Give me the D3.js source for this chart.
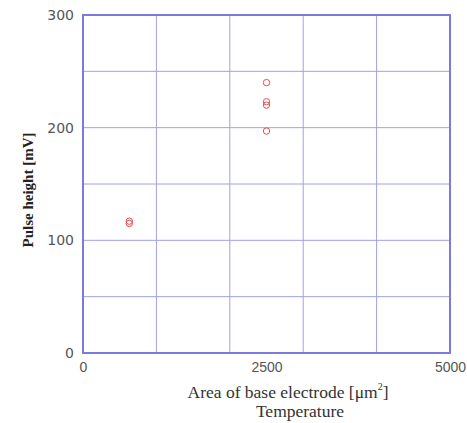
<!DOCTYPE html>
<html><head><meta charset="utf-8">
<script src="https://cdn.jsdelivr.net/npm/d3@7"></script>
<style>body{margin:0;background:#fff}svg{display:block}</style>
</head><body>
<svg id="c" width="467" height="423"></svg>
<script>
const xValues = [631, 631, 2500, 2500, 2500, 2500];
const yValues = [115, 117, 240, 223, 220, 197];
const xTickLabels = [0, 2500, 5000];
const yTickLabels = [0, 100, 200, 300];
const xGridValues = [1000, 2000, 3000, 4000];
const yGridValues = [50, 100, 150, 200, 250];

const svg = d3.select("#c");
const m = {l: 83, r: 450, t: 15, b: 353};
const x = d3.scaleLinear().domain([0, 5000]).range([m.l, m.r]);
const y = d3.scaleLinear().domain([0, 300]).range([m.b, m.t]);

const g = svg.append("g");
g.selectAll(".gx").data(xGridValues).enter().append("line")
  .attr("x1", d => x(d)).attr("x2", d => x(d)).attr("y1", m.t).attr("y2", m.b)
  .attr("stroke", "#a0a0e8").attr("stroke-width", 1);
g.selectAll(".gy").data(yGridValues).enter().append("line")
  .attr("y1", d => y(d)).attr("y2", d => y(d)).attr("x1", m.l).attr("x2", m.r)
  .attr("stroke", "#a0a0e8").attr("stroke-width", 1);
g.append("rect").attr("x", m.l).attr("y", m.t).attr("width", m.r - m.l).attr("height", m.b - m.t)
  .attr("fill", "none").attr("stroke", "#7a7ae0").attr("stroke-width", 2);

const xa = d3.axisBottom(x).tickValues(xTickLabels).tickSize(0).tickPadding(9).tickFormat(d3.format("d"));
const xg = svg.append("g").attr("transform", `translate(0,${m.b})`).call(xa);
xg.select(".domain").remove();
xg.selectAll("text").attr("font-family", "Liberation Sans").attr("font-size", 14).attr("fill", "#555");

const ya = d3.axisLeft(y).tickValues(yTickLabels).tickSize(0).tickPadding(9).tickFormat(d3.format("d"));
const yg = svg.append("g").attr("transform", `translate(${m.l},0)`).call(ya);
yg.select(".domain").remove();
yg.selectAll("text").attr("font-family", "DejaVu Sans").attr("font-size", 14).attr("fill", "#555");

svg.selectAll(".pt").data(xValues.map((v, i) => [v, yValues[i]])).enter().append("circle")
  .attr("cx", d => x(d[0])).attr("cy", d => y(d[1])).attr("r", 3.2)
  .attr("fill", "none").attr("stroke", "#e05050").attr("stroke-width", 1);

const xt = svg.append("text").attr("x", 288).attr("y", 398)
  .attr("text-anchor", "middle").attr("font-family", "Liberation Serif").attr("font-size", 17.5).attr("fill", "#333");
xt.append("tspan").text("Area of base electrode [μm");
xt.append("tspan").attr("font-size", 10).attr("dy", -8).text("2");
xt.append("tspan").attr("dy", 8).text("]");
svg.append("text").attr("x", 300).attr("y", 417)
  .attr("text-anchor", "middle").attr("font-family", "Liberation Serif").attr("font-size", 17.5).attr("fill", "#333")
  .text("Temperature");
svg.append("text").attr("transform", `translate(33,190) rotate(-90)`)
  .attr("text-anchor", "middle").attr("font-family", "Liberation Serif").attr("font-size", 15).attr("font-weight", "bold").attr("fill", "#222")
  .text("Pulse height [mV]");
</script>
</body></html>
